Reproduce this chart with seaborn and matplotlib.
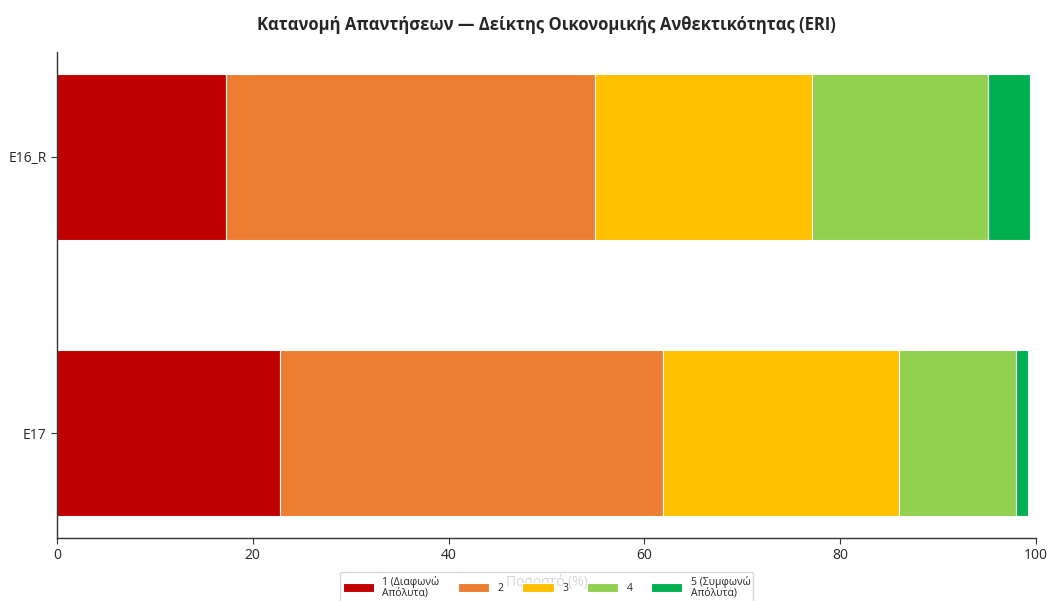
import matplotlib
matplotlib.use("Agg")
import matplotlib.pyplot as plt
import numpy as np
import pandas as pd
import seaborn as sns

# data
items = ["E16_R", "E17"]
levels = ["1 (Διαφωνώ\nΑπόλυτα)", "2", "3", "4", "5 (Συμφωνώ\nΑπόλυτα)"]
level_1 = [17.3, 22.8]
level_2 = [37.7, 39.1]
level_3 = [22.1, 24.1]
level_4 = [18.0, 12.0]
level_5 = [4.3, 1.2]
colors = ["#C00000", "#ED7D31", "#FFC000", "#92D050", "#00B050"]

sns.set_style("white")
plt.rcParams["font.family"] = ["Open Sans", "Noto Sans", "DejaVu Sans"]

df = pd.DataFrame(
    {"item": items, levels[0]: level_1, levels[1]: level_2, levels[2]: level_3,
     levels[3]: level_4, levels[4]: level_5}
)

fig, ax = plt.subplots(figsize=(10.47, 6.01), dpi=100)
fig.subplots_adjust(left=0.0544, right=0.9895, top=0.9135, bottom=0.1048)

left = np.zeros(len(items))
for lev, col in zip(levels, colors):
    sns.barplot(
        data=df, x=lev, y="item", orient="y", color=col, saturation=1, left=left,
        width=0.6, edgecolor="white", linewidth=0.8, label=lev, ax=ax,
    )
    left = left + df[lev].to_numpy()

ax.set_xlim(0, 100)
ax.set_ylim(1.38, -0.38)
ax.set_xticks([0, 20, 40, 60, 80, 100])
# the label sits behind the semi-transparent legend, as in the original
ax.set_xlabel("Ποσοστό (%)", fontsize=10, color="#333333", labelpad=8)
ax.set_ylabel("")
ax.tick_params(axis="both", labelsize=10, length=4, color="#333333", left=True, bottom=True)
for s in ["top", "right"]:
    ax.spines[s].set_visible(False)
for s in ["left", "bottom"]:
    ax.spines[s].set_color("#333333")
    ax.spines[s].set_linewidth(1.0)

ax.set_title("Κατανομή Απαντήσεων — Δείκτης Οικονομικής Ανθεκτικότητας (ERI)",
             fontsize=12, fontweight="bold", pad=16)

leg = ax.legend(loc="upper center", bbox_to_anchor=(0.5, -0.06), ncol=5,
                fontsize=7.5, frameon=True, framealpha=0.8, handlelength=3.0,
                handleheight=0.9, columnspacing=1.8, borderpad=0.3,
                labelspacing=0.2)
leg.get_frame().set_edgecolor("#cccccc")
for t in leg.get_texts():
    t.set_linespacing(1.0)

fig.savefig("out.png", dpi=100)
